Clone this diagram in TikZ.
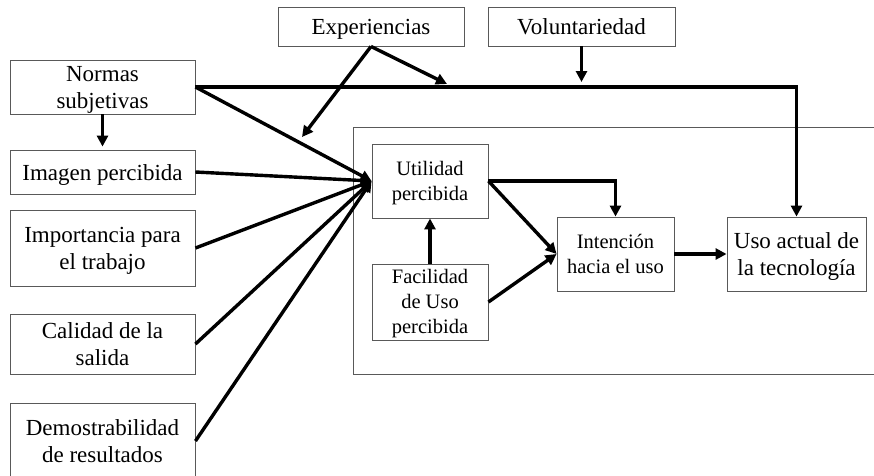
\documentclass[tikz,border=0pt]{standalone}
\usepackage{fontspec}
\setmainfont{Liberation Serif}
\usetikzlibrary{arrows.meta}
\newcommand\outerf{\fontsize{23}{27}\selectfont}
\newcommand\innerf{\fontsize{20.5}{25}\selectfont}
\newcommand\ostr{\rule[-5.1pt]{0pt}{27pt}}
\newcommand\istr{\rule[-6pt]{0pt}{25pt}}
\tikzset{
  box/.style={draw=black!65, line width=0.9pt, align=center, inner sep=0pt, font=\outerf, text=black},
  ibox/.style={box, font=\innerf},
  ln/.style={line width=3.4pt, line join=miter},
  arr/.style={ln, -{Triangle[length=11pt,width=11pt]}},
}
\begin{document}
\begin{tikzpicture}[x=1pt,y=-1pt]
\useasboundingbox (0,0) rectangle (874,475);
\clip (0,0) rectangle (874,475);
\fill[white] (0,0) rectangle (874,475);
% outer frame
\draw[black!65, line width=0.9pt] (880,127) -- (353,127) -- (353,374) -- (880,374);
% left column
\node[box, minimum width=185pt, minimum height=52pt] (norm) at (102.5,87) {\ostr Normas\\\ostr subjetivas};
\node[box, minimum width=185pt, minimum height=44pt] (imag) at (102.5,172) {\ostr Imagen percibida};
\node[box, minimum width=185pt, minimum height=76pt] (impo) at (102.5,248) {\ostr Importancia para\\\ostr el trabajo};
\node[box, minimum width=185pt, minimum height=60pt] (cali) at (102.5,344) {\ostr Calidad de la\\\ostr salida};
\node[box, minimum width=185pt, minimum height=76pt] (demo) at (102.5,441) {\ostr Demostrabilidad\\\ostr de resultados};
% top
\node[box, minimum width=186pt, minimum height=39pt] (expe) at (371,26.5) {\ostr Experiencias};
\node[box, minimum width=187pt, minimum height=39pt] (volu) at (581.5,26.5) {\ostr Voluntariedad};
% inner
\node[ibox, minimum width=116pt, minimum height=74pt] (util) at (430,181) {\istr Utilidad\\\istr percibida};
\node[ibox, minimum width=116pt, minimum height=76pt] (faci) at (430,302) {\istr Facilidad\\\istr de Uso\\\istr percibida};
\node[ibox, minimum width=117pt, minimum height=74pt] (inte) at (615.5,254) {\istr Intención\\\istr hacia el uso};
\node[box, minimum width=139pt, minimum height=74pt] (uso) at (796.5,254) {\ostr Uso actual de\\\ostr la tecnología};
% coordinates
\coordinate (expA) at (447,84);
\coordinate (expB) at (302,137);
\coordinate (volA) at (581.5,82);
% main line
\draw[arr] (norm.east) -| (uso.north);
\draw[arr] (expe.south) -- (expA);
\draw[arr] (expe.south) -- (expB);
\draw[arr] (volu.south) -- (volA);
\draw[arr, shorten >=3pt] (norm.south) -- (imag.north);
% converging
\draw[arr] (norm.east) -- (util.west);
\draw[arr] (imag.east) -- (util.west);
\draw[arr] (impo.east) -- (util.west);
\draw[arr] (cali.east) -- (util.west);
\draw[arr] (demo.east) -- (util.west);
% inner
\draw[arr] (util.east) -| (inte.north);
\draw[arr] (util.east) -- (inte.west);
\draw[arr] (faci.east) -- (inte.west);
\draw[arr] (faci.north) -- (util.south);
\draw[arr] (inte.east) -- (uso.west);
\end{tikzpicture}
\end{document}
